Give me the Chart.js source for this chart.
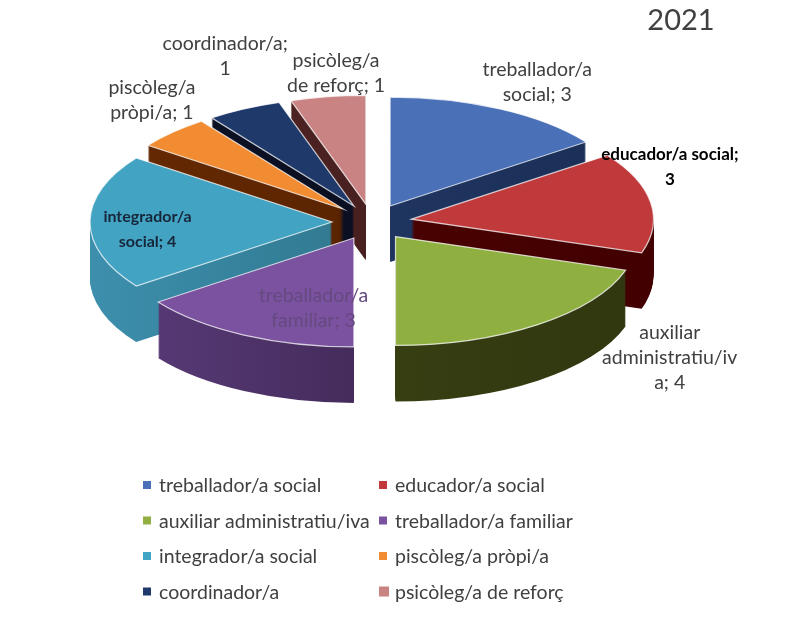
<!DOCTYPE html>
<html lang="ca">
<head>
<meta charset="UTF-8">
<title>2021</title>
<script src="https://cdn.jsdelivr.net/npm/chart.js"></script>
</head>
<body style="margin:0; background:#fff;">
<canvas id="chart" width="800" height="619"></canvas>
<script>
// dades
const categories = ['treballador/a social', 'educador/a social', 'auxiliar administratiu/iva', 'treballador/a familiar',
    'integrador/a social', 'piscòleg/a pròpi/a', 'coordinador/a', 'psicòleg/a de reforç'];
const values = [3, 3, 4, 3, 4, 1, 1, 1];
const sliceLabels = ['treballador/a\nsocial; {v}', 'educador/a social;\n{v}', 'auxiliar\nadministratiu/iv\na; {v}',
    'treballador/a\nfamiliar; {v}', 'integrador/a\nsocial; {v}', 'piscòleg/a\npròpi/a; {v}', 'coordinador/a;\n{v}',
    'psicòleg/a\nde reforç; {v}'];
const chartTitle = '2021';

// estil
const topColors = ['#4a70b8', '#c0393b', '#8fb040', '#7b529f', '#42a3c2', '#f28c33', '#1f3a6a', '#c98383'];
const sideLeft = ['#243d6c', '#520404', '#3f4815', '#5c3d7c', '#3d8fad', '#662a02', '#0d1226', '#552626'];
const sideRight = ['#1a2e55', '#420000', '#30360f', '#2a1838', '#23606f', '#4e1e00', '#080b1c', '#3c1a1a'];
const labelAngle = [28, 67.7, 135.4, 197, 266, 320.9, 338.3, 353.8];    // graus, des de dalt
const labelRadius = [352, 322, 424, 200, 225, 349, 397, 333];
const labelColor = ['#404040', '#000000', '#404040', '#654a80', '#17263a', '#404040', '#404040', '#404040'];
const labelFont = ['19.5px Lato', 'bold 17px Lato', '19.5px Lato', '19.5px Lato', 'bold 16px Lato', '19.5px Lato',
    '19.5px Lato', '19.5px Lato'];

const CY = 222;      // centre vertical de la cara superior
const TILT = 0.45;   // aixafament vertical
const DEPTH = 56;    // gruix

function slicePath(ctx, a) {
    const m = (a.startAngle + a.endAngle) / 2;
    const off = a.options.offset;
    const x = a.x + Math.cos(m) * off, y = a.y + Math.sin(m) * off;
    ctx.beginPath();
    ctx.moveTo(x, y);
    ctx.arc(x, y, a.outerRadius, a.startAngle, a.endAngle);
    ctx.closePath();
}

function pathAt(ctx, a, d) {
    ctx.save();
    ctx.translate(0, CY + d);
    ctx.scale(1, TILT);
    ctx.translate(0, -a.y);
    slicePath(ctx, a);
    ctx.restore();
}

const pie3d = {
    id: 'pie3d',
    beforeDatasetsDraw(chart) {
        const ctx = chart.ctx;
        const arcs = chart.getDatasetMeta(0).data;
        const mid = a => (a.startAngle + a.endAngle) / 2;
        const order = arcs.map((a, i) => i).sort((i, j) => Math.sin(mid(arcs[i])) - Math.sin(mid(arcs[j])));
        order.forEach(i => {
            const a = arcs[i];
            const r = a.outerRadius + a.options.offset;
            const grad = ctx.createLinearGradient(a.x - r, 0, a.x + r, 0);
            grad.addColorStop(0, sideLeft[i]);
            grad.addColorStop(1, sideRight[i]);
            ctx.fillStyle = grad;
            for (let d = DEPTH; d >= 1; d--) {
                pathAt(ctx, a, d);
                ctx.fill();
            }
            pathAt(ctx, a, 0);
            ctx.fillStyle = topColors[i];
            ctx.fill();
            ctx.strokeStyle = 'rgba(255,255,255,0.75)';
            ctx.lineWidth = 1.2;
            ctx.stroke();
        });
        return false;
    },
    afterDraw(chart) {
        const ctx = chart.ctx;
        const cx = chart.getDatasetMeta(0).data[0].x;
        ctx.save();
        ctx.textAlign = 'center';
        ctx.textBaseline = 'middle';
        // etiquetes de les porcions
        values.forEach((v, i) => {
            const ang = labelAngle[i] * Math.PI / 180;
            const x = cx + labelRadius[i] * Math.sin(ang);
            const y = CY - labelRadius[i] * Math.cos(ang) * TILT;
            const lines = sliceLabels[i].replace('{v}', v).split('\n');
            ctx.font = labelFont[i];
            ctx.fillStyle = labelColor[i];
            lines.forEach((t, k) => ctx.fillText(t, x, y + (k - (lines.length - 1) / 2) * 25));
        });
        // títol
        ctx.font = '29px Lato';
        ctx.fillStyle = '#404040';
        ctx.fillText(chartTitle, 681, 21);
        // llegenda
        ctx.textAlign = 'left';
        ctx.font = '19.5px Lato';
        categories.forEach((c, i) => {
            const x = i % 2 === 0 ? 143 : 379;
            const y = 485 + Math.floor(i / 2) * 35.5;
            const s = i === 7 ? 10 : 8;
            ctx.fillStyle = topColors[i];
            ctx.fillRect(x, y - s / 2, s, s);
            ctx.fillStyle = '#404040';
            ctx.fillText(c, x + 16, y + 1);
        });
        ctx.restore();
    }
};

new Chart(document.getElementById('chart'), {
    type: 'pie',
    data: {
        labels: categories,
        datasets: [{
            data: values,
            backgroundColor: topColors,
            borderWidth: 0,
            offset: 40,
            radius: 242
        }]
    },
    options: {
        responsive: false,
        animation: false,
        events: [],
        layout: { padding: { right: 56 } },
        plugins: {
            legend: { display: false },
            tooltip: { enabled: false }
        }
    },
    plugins: [pie3d]
});
</script>
</body>
</html>
